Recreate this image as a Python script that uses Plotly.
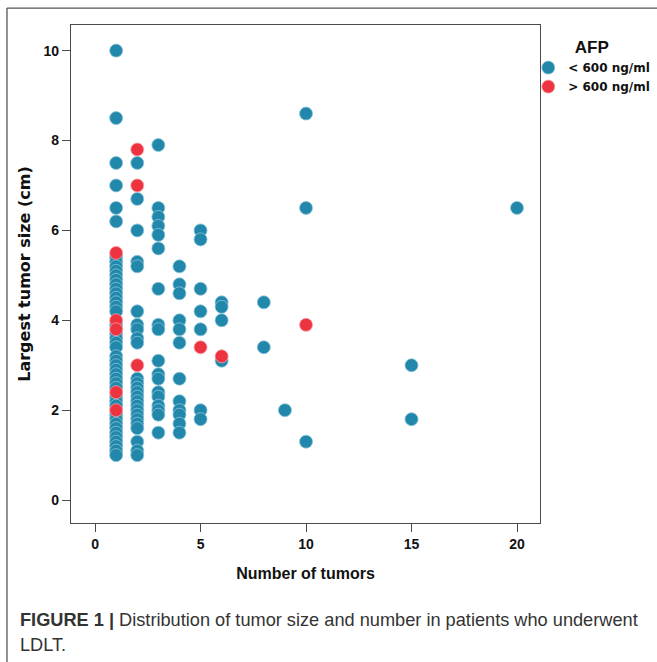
import plotly.graph_objects as go

# ---- data ----
low_x = ([1] * 45 + [2] * 25 + [3] * 18 + [4] * 12 + [5] * 7 + [6] * 4 + [8] * 2 + [9] + [10] * 3 + [15] * 2 + [20])
low_y = (
    # 1 tumor
    [10.0, 8.5, 7.5, 7.0, 6.5, 6.2, 5.4, 5.3, 5.2, 5.1, 5.0, 4.9, 4.8, 4.7, 4.6, 4.5, 4.4, 4.3, 4.2,
     3.9, 3.7, 3.6, 3.5, 3.4, 3.2, 3.1, 3.0, 2.9, 2.8, 2.7, 2.6, 2.5, 2.3, 2.2, 2.1,
     1.9, 1.8, 1.7, 1.6, 1.5, 1.4, 1.3, 1.2, 1.1, 1.0]
    # 2 tumors
    + [7.5, 6.7, 6.0, 5.3, 5.2, 4.2, 3.9, 3.8, 3.6, 3.5, 2.7, 2.6, 2.5, 2.4, 2.3, 2.2, 2.1, 2.0,
       1.9, 1.8, 1.7, 1.6, 1.3, 1.1, 1.0]
    # 3 tumors
    + [7.9, 6.5, 6.3, 6.1, 5.9, 5.6, 4.7, 3.9, 3.8, 3.1, 2.8, 2.7, 2.4, 2.3, 2.1, 2.0, 1.9, 1.5]
    # 4 tumors
    + [5.2, 4.8, 4.6, 4.0, 3.8, 3.5, 2.7, 2.2, 2.0, 1.9, 1.7, 1.5]
    # 5 tumors
    + [6.0, 5.8, 4.7, 4.2, 3.8, 2.0, 1.8]
    # 6 tumors
    + [4.4, 4.3, 4.0, 3.1]
    # 8, 9, 10, 15, 20 tumors
    + [4.4, 3.4] + [2.0] + [8.6, 6.5, 1.3] + [3.0, 1.8] + [6.5]
)
high_x = [1, 1, 1, 1, 1, 2, 2, 2, 5, 6, 10]
high_y = [5.5, 4.0, 3.8, 2.4, 2.0, 7.8, 7.0, 3.0, 3.4, 3.2, 3.9]

x_ticks = [0, 5, 10, 15, 20]
y_ticks = [0, 2, 4, 6, 8, 10]

BLUE = "#2187ab"
RED = "#ee3340"
ARIAL = "Liberation Sans, Arial, sans-serif"
DEJAVU = "DejaVu Sans, Verdana, sans-serif"

fig = go.Figure()
fig.add_trace(go.Scatter(
    x=low_x, y=low_y, mode="markers", name="&lt; 600 ng/ml",
    marker=dict(size=13, color=BLUE, line=dict(width=0.8, color="#8cc4d8")),
))
fig.add_trace(go.Scatter(
    x=high_x, y=high_y, mode="markers", name="&gt; 600 ng/ml",
    marker=dict(size=13, color=RED, line=dict(width=0.8, color="#f5a0a5")),
))

axis_common = dict(
    showgrid=False, zeroline=False, showline=True, mirror=True,
    linecolor="#4a4a4a", linewidth=1.3,
    ticks="outside", ticklen=8, tickwidth=1.3, tickcolor="#4a4a4a",
    tickfont=dict(family=ARIAL, size=14, color="#111", weight="bold"),
)

fig.update_layout(
    width=657, height=662,
    margin=dict(l=71, r=117, t=25, b=139, autoexpand=False),
    paper_bgcolor="white", plot_bgcolor="white",
    xaxis=dict(range=[-1.14, 21.09], tickvals=x_ticks, **axis_common,
               title=dict(text="Number of tumors", standoff=16,
                          font=dict(family=ARIAL, size=16, color="#111", weight="bold"))),
    yaxis=dict(range=[-0.51, 10.57], tickvals=y_ticks, **axis_common,
               title=dict(text="Largest tumor size (cm)", standoff=8,
                          font=dict(family=DEJAVU, size=16, color="#111", weight="bold"))),
    legend=dict(
        x=0.975, xanchor="left", y=0.988, yanchor="top",
        bgcolor="rgba(0,0,0,0)", itemwidth=30, tracegroupgap=0,
        font=dict(family=DEJAVU, size=12, color="#111", weight="bold"),
        title=dict(text="AFP", side="top center",
                   font=dict(family=ARIAL, size=17, color="#111", weight="bold")),
    ),
    shapes=[
        dict(type="line", xref="paper", yref="paper", x0=-0.1365, x1=1.26, y0=1.034, y1=1.034,
             line=dict(color="#555", width=1.3)),
        dict(type="line", xref="paper", yref="paper", x0=-0.1365, x1=-0.1365, y0=1.034, y1=-0.3,
             line=dict(color="#555", width=1.3)),
    ],
    annotations=[
        dict(xref="paper", yref="paper", x=-0.113, y=-0.195, xanchor="left", yanchor="middle",
             showarrow=False, align="left",
             text="<b>FIGURE 1 |</b> Distribution of tumor size and number in patients who underwent",
             font=dict(family=ARIAL, size=18.2, color="#333")),
        dict(xref="paper", yref="paper", x=-0.113, y=-0.245, xanchor="left", yanchor="middle",
             showarrow=False, align="left", text="LDLT.",
             font=dict(family=ARIAL, size=18.2, color="#333")),
    ],
)

fig.write_html("out.html")
